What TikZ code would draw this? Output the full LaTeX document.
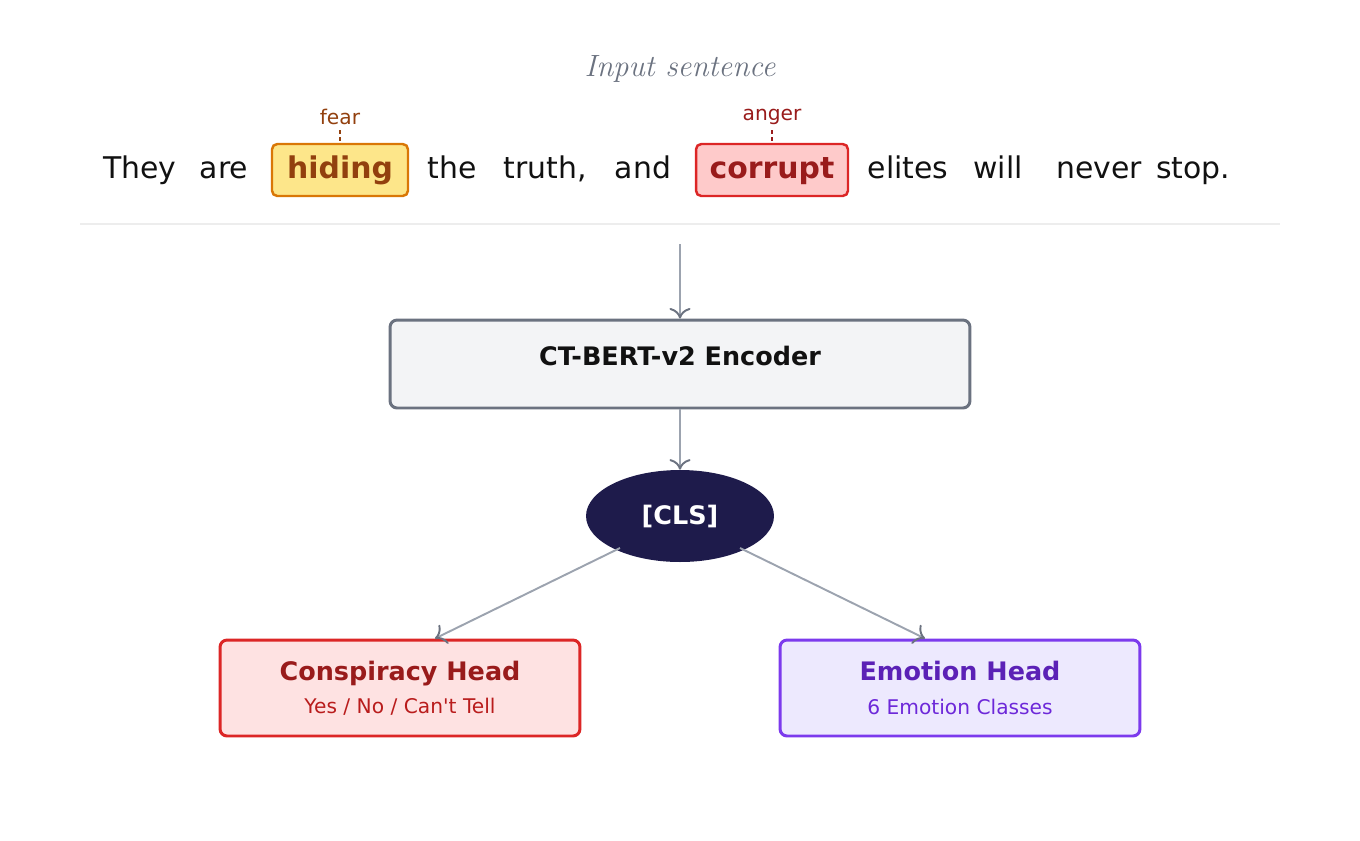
\documentclass[tikz,border=0pt]{standalone}
\usepackage{fontspec}
\setmainfont{DejaVu Sans}[Ligatures=ResetAll]
\newfontfamily\lmfont{Latin Modern Roman}
\newfontfamily\rawsans{DejaVu Sans}[Mapping=,Ligatures=ResetAll]
\usetikzlibrary{positioning,shapes.geometric,arrows.meta}
\definecolor{greytext}{HTML}{6B7280}
\definecolor{arrgrey}{HTML}{9CA3AF}
\definecolor{inktext}{HTML}{111111}
\definecolor{encfill}{HTML}{F3F4F6}
\definecolor{clsfill}{HTML}{1E1B4B}
\definecolor{fearfill}{HTML}{FDE68A}
\definecolor{feardraw}{HTML}{D97706}
\definecolor{feartext}{HTML}{92400E}
\definecolor{angfill}{HTML}{FECACA}
\definecolor{angdraw}{HTML}{DC2626}
\definecolor{angtext}{HTML}{991B1B}
\definecolor{conspfill}{HTML}{FEE2E2}
\definecolor{conspsub}{HTML}{B91C1C}
\definecolor{emofill}{HTML}{EDE9FE}
\definecolor{emodraw}{HTML}{7C3AED}
\definecolor{emotext}{HTML}{5B21B6}
\definecolor{emosub}{HTML}{6D28D9}

\begin{document}
\begin{tikzpicture}[x=0.02cm,y=-0.02cm,
    word/.style={font=\fontsize{17}{19}\selectfont, text=inktext, text height=1.9ex, text depth=0.2ex, inner sep=0pt},
    hl/.style={rounded corners=3pt, line width=1.4pt, minimum width=2.72cm, minimum height=1.04cm,
      font=\fontsize{17}{19}\selectfont\bfseries, text height=1.9ex, text depth=0.2ex},
    tag/.style={font=\fontsize{11.5}{13}\selectfont, inner sep=1pt},
    box/.style={draw, rounded corners=4pt, line width=1.7pt, minimum width=7.2cm, minimum height=1.92cm, align=center},
    arr/.style={draw=arrgrey, line width=1.1pt, -{To[length=6pt,width=12pt,color=greytext]}}]
    \useasboundingbox (0,0) rectangle (1360,840);
    % sentence
    \node[text=greytext, font=\lmfont\itshape\fontsize{17.5}{19}\selectfont] (title) at (680,69) {Input sentence};
    \node[word] (w1) at (140,170) {They};
    \node[word] (w2) at (224,170) {are};
    \node[hl, draw=feardraw, fill=fearfill, text=feartext] (w3) at (340,170) {hiding};
    \node[word] (w4) at (452,170) {the};
    \node[word] (w5) at (545,170) {truth,};
    \node[word] (w6) at (643,170) {and};
    \node[hl, draw=angdraw, fill=angfill, text=angtext, minimum width=3.04cm] (w7) at (772,170) {corrupt};
    \node[word] (w8) at (908,170) {elites};
    \node[word] (w9) at (998,170) {will};
    \node[word] (w10) at (1099,170) {never};
    \node[word] (w11) at (1193,170) {stop.};
    % emotion tags
    \node[tag, text=feartext] (fear) at (340,117) {fear};
    \node[tag, text=angtext] (anger) at (772,117) {anger};
    \draw[feartext, dashed, dash pattern=on 2pt off 2pt, line width=0.8pt] (340,130) -- (w3.north);
    \draw[angtext, dashed, dash pattern=on 2pt off 2pt, line width=0.8pt] (772,130) -- (w7.north);
    \draw[black!7, line width=0.6pt] (80,224) -- (1280,224);
    % model
    \coordinate (in) at (680,244);
    \node[box, draw=greytext, fill=encfill, minimum width=11.6cm, minimum height=1.76cm] (enc) at (680,364) {};
    \node[text=inktext, font=\fontsize{14.5}{16}\selectfont\bfseries] (enclabel) at (680,356) {CT-BERT-v2 Encoder};
    \node[ellipse, fill=clsfill, text=white, minimum width=3.76cm, minimum height=1.84cm,
      font=\fontsize{14.5}{16}\selectfont\bfseries] (cls) at (680,516) {[CLS]};
    \node[box, draw=angdraw, fill=conspfill] (consp) at (400,688)
      {{\fontsize{14.5}{16}\selectfont\bfseries\color{angtext}Conspiracy Head}\\[7pt]
       {\rawsans\fontsize{11.5}{13}\selectfont\color{conspsub}Yes / No / Can\symbol{"0027}t Tell}};
    \node[box, draw=emodraw, fill=emofill] (emo) at (960,688)
      {{\fontsize{14.5}{16}\selectfont\bfseries\color{emotext}Emotion Head}\\[7pt]
       {\fontsize{11.5}{13}\selectfont\color{emosub}6 Emotion Classes}};
    % connectors
    \draw[arr] (in) -- (enc.north);
    \draw[arr] (enc.south) -- (cls.north);
    \draw[arr] (620,548) -- ([xshift=0.7cm]consp.north);
    \draw[arr] (740,548) -- ([xshift=-0.7cm]emo.north);
\end{tikzpicture}
\end{document}
